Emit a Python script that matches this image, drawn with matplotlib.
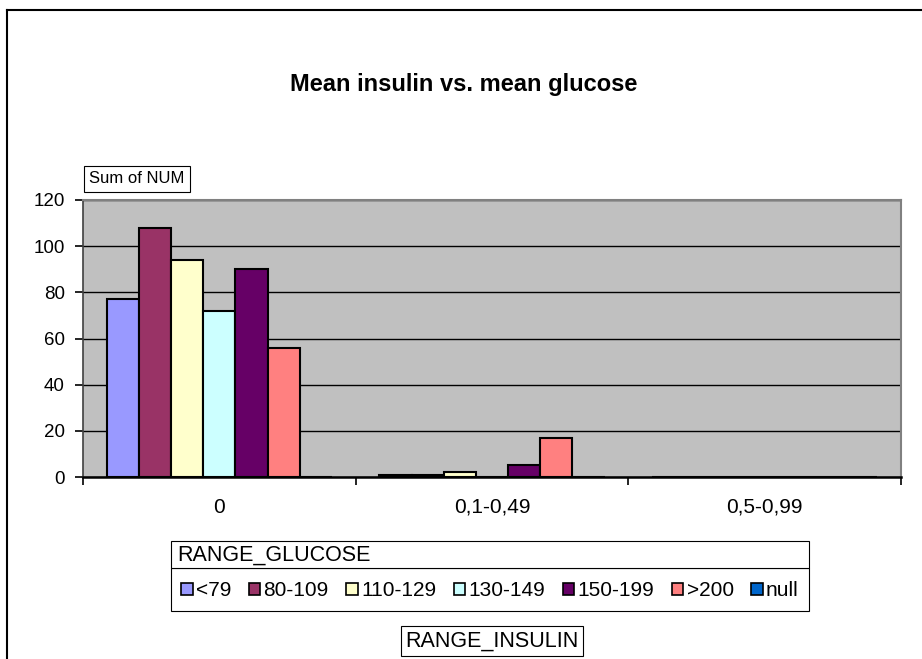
import matplotlib
matplotlib.use("Agg")
import matplotlib.pyplot as plt
from matplotlib.patches import Rectangle
from matplotlib.lines import Line2D
import numpy as np

plt.rcParams['font.family'] = ['Liberation Sans', 'DejaVu Sans']

categories = ["0", "0,1-0,49", "0,5-0,99"]
series_names = ["<79", "80-109", "110-129", "130-149", "150-199", ">200", "null"]
series_colors = ["#9999FF", "#993366", "#FFFFCC", "#CCFFFF", "#660066", "#FF8080", "#0066CC"]
values = {
    "<79":     [77, 1, 0],
    "80-109":  [108, 1, 0],
    "110-129": [94, 2, 0],
    "130-149": [72, 0, 0],
    "150-199": [90, 5, 0],
    ">200":    [56, 17, 0],
    "null":    [0, 0, 0],
}
yticks = [0, 20, 40, 60, 80, 100, 120]

W, H = 922, 659
fig = plt.figure(figsize=(W / 100, H / 100), dpi=100)
ax = fig.add_axes([83 / W, 1 - 477 / H, (901 - 83) / W, (477 - 200) / H])
ax.set_facecolor("#C0C0C0")

n = len(series_names)
bw = 0.118
x = np.arange(len(categories))
handles = []
for i, (name, col) in enumerate(zip(series_names, series_colors)):
    off = (i - (n - 1) / 2) * bw
    vals = values[name]
    ax.bar(x + off, vals, width=bw, color=col, edgecolor="black", linewidth=1.5, zorder=3)
    handles.append(Rectangle((0, 0), 1, 1, facecolor=col, edgecolor="black", linewidth=1.2))

ax.set_xlim(-0.5, len(categories) - 0.5)
ax.set_ylim(0, 120)
ax.set_yticks(yticks)
ax.set_yticklabels([str(v) for v in yticks], fontsize=13.5)
ax.yaxis.grid(True, color="black", linewidth=1, zorder=1)
ax.set_axisbelow(True)
ax.set_xticks(x)
ax.set_xticklabels(categories, fontsize=15)
ax.tick_params(axis="x", which="major", length=0, pad=15)
ax.set_xticks(np.arange(-0.5, len(categories), 1.0), minor=True)
ax.tick_params(axis="x", which="minor", length=6, width=1.2, color="black")
ax.tick_params(axis="y", length=6, width=1.2, pad=7)
for s in ["top", "right"]:
    ax.spines[s].set_color("#808080")
    ax.spines[s].set_linewidth(1.5)
ax.spines["left"].set_color("#404040")
ax.spines["left"].set_linewidth(1.2)
ax.spines["bottom"].set_color("black")
ax.spines["bottom"].set_linewidth(1.8)

# title
fig.text(464 / W, 1 - 85 / H, "Mean insulin vs. mean glucose", ha="center", va="center",
         fontsize=17, fontweight="bold")

# "Sum of NUM" label box
fig.text(89 / W, 1 - 179 / H, "Sum of NUM", ha="left", va="center", fontsize=12,
         bbox=dict(boxstyle="square,pad=0.32", facecolor="white", edgecolor="black", linewidth=0.8))

# legend: title row
fig.patches.append(Rectangle((171 / W, 1 - 568 / H), (809 - 171) / W, 27 / H,
                             transform=fig.transFigure, facecolor="white", edgecolor="black",
                             linewidth=0.8, zorder=5))
fig.text(177 / W, 1 - 555 / H, "RANGE_GLUCOSE", ha="left", va="center", fontsize=15.5, zorder=6)

leg = fig.legend(handles, series_names, ncol=n, loc="center",
                 bbox_to_anchor=(490 / W, 1 - 591 / H), fontsize=15, frameon=False,
                 handlelength=0.55, handleheight=0.55, handletextpad=0.15, columnspacing=0.85,
                 borderpad=0.3)
fig.patches.append(Rectangle((171 / W, 1 - 611 / H), (809 - 171) / W, 43 / H,
                             transform=fig.transFigure, facecolor="white", edgecolor="black",
                             linewidth=0.8, zorder=0))

# x-axis title box
fig.text(492 / W, 1 - 641 / H, "RANGE_INSULIN", ha="center", va="center", fontsize=15.5,
         bbox=dict(boxstyle="square,pad=0.2", facecolor="white", edgecolor="black", linewidth=0.8))

# outer frame (left and top)
fig.lines.append(Line2D([7 / W, 7 / W], [0, 1 - 10 / H], transform=fig.transFigure,
                        color="black", linewidth=1.5))
fig.lines.append(Line2D([7 / W, 1], [1 - 10 / H, 1 - 10 / H], transform=fig.transFigure,
                        color="black", linewidth=1.5))

fig.savefig("out.png", dpi=100, facecolor="white")
